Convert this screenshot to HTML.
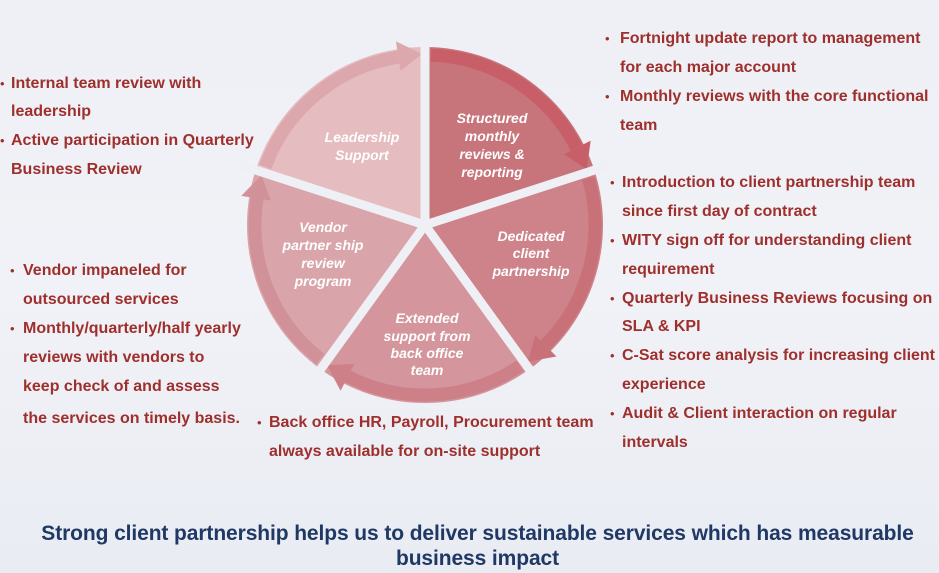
<!DOCTYPE html>
<html><head><meta charset="utf-8"><style>
body{margin:0;width:939px;height:573px;overflow:hidden;background:linear-gradient(180deg,#eef0f5 0%,#f1f2f7 50%,#e9ecf3 100%);font-family:"Liberation Sans",sans-serif;position:relative}
.t{position:absolute;color:#9e2f2c;font-weight:bold;font-size:16px;line-height:20px;white-space:nowrap;transform:translateY(-10px)}
.b{position:absolute;color:#9e2f2c;font-size:13px;line-height:20px;transform:translateY(-10px)}
.h{position:absolute;left:8px;width:939px;text-align:center;color:#1f3864;font-weight:bold;font-size:21px;line-height:25px;letter-spacing:-0.1px;white-space:nowrap}
svg{position:absolute;left:0;top:0}
svg text{font-family:"Liberation Sans",sans-serif;font-style:italic;font-weight:bold;font-size:14px;fill:#fff;text-anchor:middle}
</style></head><body>
<svg width="939" height="573">
<path d="M425,225 L425,47 A178,178 0 0 1 594.3,170 Z" fill="#c8747b"/>
<path d="M425,225 L594.3,170 A178,178 0 0 1 529.7,369 Z" fill="#cd8389"/>
<path d="M425,225 L529.7,369 A178,178 0 0 1 320.3,369 Z" fill="#d4969c"/>
<path d="M425,225 L320.3,369 A178,178 0 0 1 255.7,170 Z" fill="#daa5aa"/>
<path d="M425,225 L255.7,170 A178,178 0 0 1 425,47 Z" fill="#e5bcc0"/>
<g fill="none" stroke-width="13">
<path d="M430.9,55.1 A170,170 0 0 1 576.5,147.8" stroke="#c85f68"/>
<path d="M588.4,178.1 A170,170 0 0 1 545.2,345.2" stroke="#c87179"/>
<path d="M520.1,365.9 A170,170 0 0 1 347.8,376.5" stroke="#cd8088"/>
<path d="M320.3,359 A170,170 0 0 1 257.1,198.4" stroke="#d19199"/>
<path d="M265.3,166.9 A170,170 0 0 1 398.4,57.1" stroke="#dca8ad"/>
</g>
<polygon points="564,154.2 590.7,140.6 586.7,169.3" fill="#c85f68"/>
<polygon points="535.3,335.3 556.5,356.5 527.9,361.6" fill="#c87179"/>
<polygon points="354.2,364 340.6,390.7 326.9,365.1" fill="#cd8088"/>
<polygon points="270.9,200.6 241.3,195.9 261.5,175" fill="#d19199"/>
<polygon points="400.6,70.9 395.9,41.3 422,54" fill="#dca8ad"/>
<g stroke="#eef0f5" stroke-width="9">
<line x1="425" y1="225" x2="425" y2="30"/>
<line x1="425" y1="225" x2="610" y2="165"/>
<line x1="425" y1="225" x2="540" y2="384"/>
<line x1="425" y1="225" x2="310" y2="384"/>
<line x1="425" y1="225" x2="240" y2="165"/>
</g>
<text x="362" y="142">Leadership</text><text x="362" y="160">Support</text>
<text x="492" y="123">Structured</text><text x="492" y="141">monthly</text><text x="492" y="159">reviews &amp;</text><text x="492" y="177">reporting</text>
<text x="531" y="241">Dedicated</text><text x="531" y="258">client</text><text x="531" y="276">partnership</text>
<text x="427" y="323">Extended</text><text x="427" y="341">support from</text><text x="427" y="358">back office</text><text x="427" y="375">team</text>
<text x="323" y="232">Vendor</text><text x="323" y="250">partner ship</text><text x="323" y="268">review</text><text x="323" y="286">program</text>
</svg>

<div class="b" style="left:605px;top:39px">•</div><div class="t" style="left:620px;top:39px">Fortnight update report to management</div>
<div class="t" style="left:620px;top:68px">for each major account</div>
<div class="b" style="left:605px;top:97px">•</div><div class="t" style="left:620px;top:97px">Monthly reviews with the core functional</div>
<div class="t" style="left:620px;top:126px">team</div>

<div class="b" style="left:610px;top:183px">•</div><div class="t" style="left:622px;top:183px">Introduction to client partnership team</div>
<div class="t" style="left:622px;top:212px">since first day of contract</div>
<div class="b" style="left:610px;top:241px">•</div><div class="t" style="left:622px;top:241px">WITY sign off for understanding client</div>
<div class="t" style="left:622px;top:270px">requirement</div>
<div class="b" style="left:610px;top:299px">•</div><div class="t" style="left:622px;top:299px">Quarterly Business Reviews focusing on</div>
<div class="t" style="left:622px;top:327px">SLA &amp; KPI</div>
<div class="b" style="left:610px;top:356px">•</div><div class="t" style="left:622px;top:356px">C-Sat score analysis for increasing client</div>
<div class="t" style="left:622px;top:385px">experience</div>
<div class="b" style="left:610px;top:414px">•</div><div class="t" style="left:622px;top:414px">Audit &amp; Client interaction on regular</div>
<div class="t" style="left:622px;top:443px">intervals</div>

<div class="b" style="left:0px;top:84px">•</div><div class="t" style="left:11px;top:84px">Internal team review with</div>
<div class="t" style="left:11px;top:112px">leadership</div>
<div class="b" style="left:0px;top:141px">•</div><div class="t" style="left:11px;top:141px">Active participation in Quarterly</div>
<div class="t" style="left:11px;top:170px">Business Review</div>

<div class="b" style="left:10px;top:271px">•</div><div class="t" style="left:23px;top:271px">Vendor impaneled for</div>
<div class="t" style="left:23px;top:300px">outsourced services</div>
<div class="b" style="left:10px;top:329px">•</div><div class="t" style="left:23px;top:329px">Monthly/quarterly/half yearly</div>
<div class="t" style="left:23px;top:358px">reviews with vendors to</div>
<div class="t" style="left:23px;top:387px">keep check of and assess</div>
<div class="t" style="left:23px;top:419px">the services on timely basis.</div>

<div class="b" style="left:257px;top:423px">•</div><div class="t" style="left:269px;top:423px">Back office HR, Payroll, Procurement team</div>
<div class="t" style="left:269px;top:452px">always available for on-site support</div>

<div class="h" style="top:521px">Strong client partnership helps us to deliver sustainable services which has measurable</div>
<div class="h" style="top:546px">business impact</div>
</body></html>
